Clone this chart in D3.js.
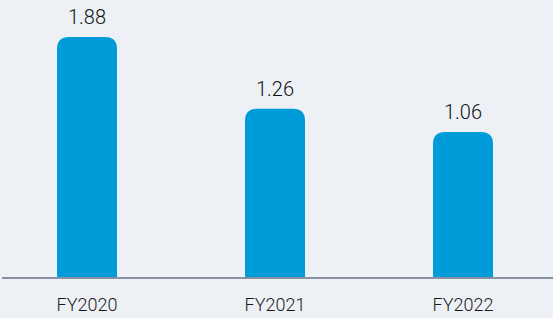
<!DOCTYPE html>
<html>
<head>
<meta charset="utf-8">
<script src="https://cdn.jsdelivr.net/npm/d3@7"></script>
<style>
  html, body { margin: 0; padding: 0; background: #edf1f5; }
  svg { display: block; }
</style>
</head>
<body>
<div id="container"></div>
<script>
// data
const years = ["FY2020", "FY2021", "FY2022"];
const values = [1.88, 1.26, 1.06];

// dimensions
const w = 553;
const h = 318;
const baseY = 277;
const barW = 60;
const r = 12;

const xScale = d3.scalePoint()
                 .domain(years)
                 .range([87, 463]);
const yScale = d3.scaleLinear()
                 .domain([-0.19, 2.0])
                 .range([baseY, 23]);

const svg = d3.select("#container")
              .append("svg")
              .attr("width", w)
              .attr("height", h);

svg.append("rect")
   .attr("width", w)
   .attr("height", h)
   .attr("fill", "#edf1f5");

// bars with rounded tops
function barPath(x, y) {
    const x0 = x - barW / 2, x1 = x + barW / 2;
    return "M" + x0 + "," + baseY +
           "V" + (y + r) +
           "Q" + x0 + "," + y + " " + (x0 + r) + "," + y +
           "H" + (x1 - r) +
           "Q" + x1 + "," + y + " " + x1 + "," + (y + r) +
           "V" + baseY + "Z";
}

svg.selectAll("path.bar")
   .data(years)
   .enter()
   .append("path")
   .attr("class", "bar")
   .attr("fill", "#009cd9")
   .attr("d", (d, i) => barPath(xScale(d), yScale(values[i])));

// value labels
svg.selectAll("text.val")
   .data(years)
   .enter()
   .append("text")
   .attr("class", "val")
   .attr("x", (d) => xScale(d))
   .attr("y", (d, i) => yScale(values[i]) - 13)
   .attr("text-anchor", "middle")
   .style("font-family", "Roboto, sans-serif")
   .style("font-size", "20px")
   .style("font-weight", "300")
   .attr("fill", "#111")
   .text((d, i) => values[i].toFixed(2));

// baseline
svg.append("line")
   .attr("x1", 2)
   .attr("x2", w)
   .attr("y1", baseY + 1)
   .attr("y2", baseY + 1)
   .attr("stroke", "#8a91a3")
   .attr("stroke-width", 2);

// category labels
svg.selectAll("text.cat")
   .data(years)
   .enter()
   .append("text")
   .attr("class", "cat")
   .attr("x", (d) => xScale(d))
   .attr("y", 311)
   .attr("text-anchor", "middle")
   .style("font-family", "Roboto, sans-serif")
   .style("font-size", "18px")
   .style("font-weight", "300")
   .attr("fill", "#1a1a1a")
   .text((d) => d);
</script>
</body>
</html>
